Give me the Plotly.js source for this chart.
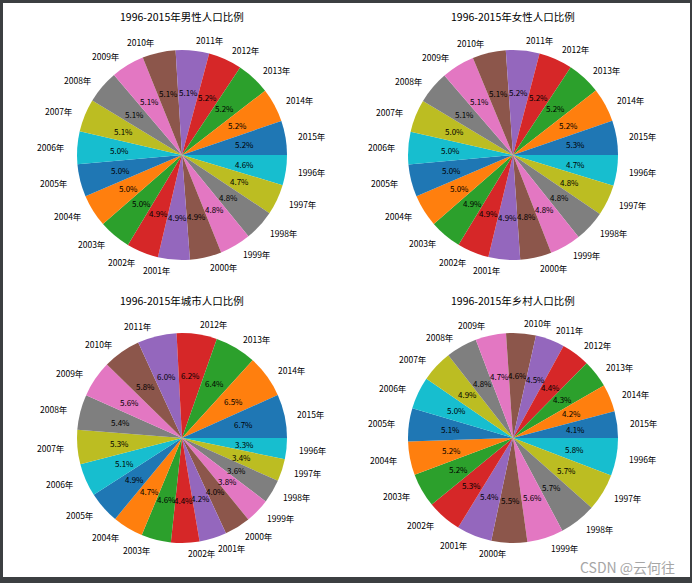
<!DOCTYPE html>
<html>
<head>
<meta charset="utf-8">
<script src="https://cdn.plot.ly/plotly-3.0.1.min.js"></script>
<style>html,body{margin:0;padding:0;background:#fff;}#chart{width:692px;height:583px;}</style>
</head>
<body>
<div id="chart"></div>
<script>
// Years in source order (drawn counterclockwise from 3 o'clock)
const years = ["2015年","2014年","2013年","2012年","2011年","2010年","2009年","2008年","2007年","2006年",
               "2005年","2004年","2003年","2002年","2001年","2000年","1999年","1998年","1997年","1996年"];
// Population (10k persons)
const malePop   = [70414,70079,69728,69395,69068,68748,68647,68357,68048,67728,67375,66976,66556,66115,65672,65437,64692,63940,63131,62200];
const femalePop = [67048,66703,66344,66009,65667,65343,64803,64445,64081,63720,63381,63012,62671,62338,61955,61306,61094,60821,60495,60189];
const urbanPop  = [77116,74916,73111,71182,69079,66978,64512,62403,60633,58288,56212,54283,52376,50212,48064,45906,43748,41608,39449,37304];
const ruralPop  = [60346,61866,62961,64222,65656,67113,68938,70399,71496,73160,74544,75705,76851,78241,79563,80837,82038,83153,84177,85085];
const titles = ["1996-2015年男性人口比例","1996-2015年女性人口比例","1996-2015年城市人口比例","1996-2015年乡村人口比例"];

const palette = ["#1f77b4","#ff7f0e","#2ca02c","#d62728","#9467bd","#8c564b","#e377c2","#7f7f7f","#bcbd22","#17becf"];
const W = 692, H = 583, R = 105;
const centers = [[182,155],[513,155],[182,438],[513,438]];
const titleY = [16,16,300,300];
const series = [malePop, femalePop, urbanPop, ruralPop];
const FONT = "Noto Sans CJK SC, sans-serif";

const px = x => x / W;
const py = y => 1 - y / H;

const colors = years.map((_, i) => palette[i % 10]);
const rev = a => a.slice().reverse();

const traces = [];
const annotations = [];
series.forEach((vals, k) => {
  const [cx, cy] = centers[k];
  // Same wedges drawn clockwise from 3 o'clock in reversed order
  traces.push({
    type: "pie",
    labels: rev(years),
    values: rev(vals),
    sort: false,
    direction: "clockwise",
    rotation: 90,
    textinfo: "none",
    hoverinfo: "label+percent",
    marker: {colors: rev(colors), line: {width: 0}},
    domain: {x: [px(cx - R), px(cx + R)], y: [py(cy + R), py(cy - R)]},
    showlegend: false
  });
  const total = vals.reduce((a, b) => a + b, 0);
  let cum = 0;
  vals.forEach((v, i) => {
    const mid = (cum + v / 2) / total * 2 * Math.PI;
    cum += v;
    const c = Math.cos(mid), s = Math.sin(mid);
    annotations.push({
      xref: "paper", yref: "paper",
      x: px(cx + 0.6 * R * c), y: py(cy - 0.6 * R * s),
      text: (v / total * 100).toFixed(1) + "%",
      showarrow: false, xanchor: "center", yanchor: "middle",
      font: {family: FONT, size: 8, color: "#000"}
    });
    annotations.push({
      xref: "paper", yref: "paper",
      x: px(cx + 1.1 * R * c), y: py(cy - 1.1 * R * s),
      text: years[i],
      showarrow: false, xanchor: c > 0 ? "left" : "right", yanchor: "middle",
      font: {family: FONT, size: 8.5, color: "#000"}
    });
  });
  annotations.push({
    xref: "paper", yref: "paper",
    x: px(cx), y: py(titleY[k]),
    text: titles[k], showarrow: false, xanchor: "center", yanchor: "middle",
    font: {family: FONT, size: 10.5, color: "#000"}
  });
});

annotations.push({
  xref: "paper", yref: "paper", x: px(677), y: py(567),
  text: "CSDN @云何往", showarrow: false, xanchor: "right", yanchor: "middle",
  font: {family: FONT, size: 14, color: "#a6a6a6"}
});

const frame = "#3c3f41";
const shapes = [
  {type: "rect", xref: "paper", yref: "paper", x0: 0, x1: 1, y0: py(3), y1: 1, fillcolor: frame, line: {width: 0}},
  {type: "rect", xref: "paper", yref: "paper", x0: 0, x1: px(3), y0: 0, y1: 1, fillcolor: frame, line: {width: 0}},
  {type: "rect", xref: "paper", yref: "paper", x0: 0, x1: 1, y0: 0, y1: py(577), fillcolor: frame, line: {width: 0}},
  {type: "rect", xref: "paper", yref: "paper", x0: px(690), x1: 1, y0: 0, y1: 1, fillcolor: frame, line: {width: 0}}
];

Plotly.newPlot("chart", traces, {
  width: W, height: H,
  margin: {l: 0, r: 0, t: 0, b: 0},
  paper_bgcolor: "#ffffff",
  annotations: annotations,
  shapes: shapes
}, {displayModeBar: false, staticPlot: true});
</script>
</body>
</html>
